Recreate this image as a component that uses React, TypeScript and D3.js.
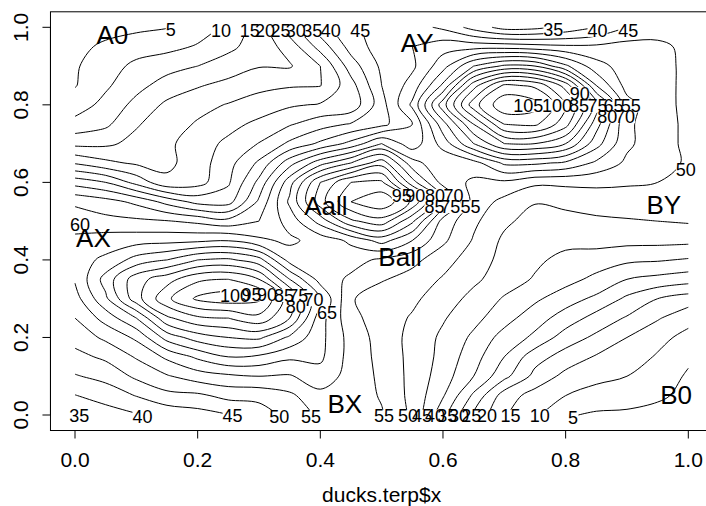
import React from "react";
import * as d3 from "d3";

// interpolated surface, rows from y = 1 (top) to y = 0 (bottom)
const gridX = [0, 0.05, 0.1, 0.15, 0.2, 0.25, 0.3, 0.35, 0.4, 0.45, 0.5, 0.55, 0.6, 0.65, 0.7, 0.75, 0.8, 0.85, 0.9, 0.95, 1];
const gridY = [1, 0.95, 0.9, 0.85, 0.8, 0.75, 0.7, 0.65, 0.6, 0.55, 0.5, 0.45, 0.4, 0.35, 0.3, 0.25, 0.2, 0.15, 0.1, 0.05, 0];
const zGrid = [
  [2, 3, 4, 4.8, 7.5, 11, 17.5, 28, 38, 44, 47, 47, 44, 38, 33, 33.5, 36.5, 40, 45, 48, 47],
  [3.5, 6, 7.5, 8.5, 10.5, 14, 17, 22, 32, 42, 47.5, 50, 53, 53, 53, 52, 51, 51, 52, 51, 49],
  [4.5, 7.6, 11.3, 13.2, 15, 17, 19.7, 19.5, 25, 37.5, 46, 49, 58, 70, 76, 75, 66, 57, 52.5, 51.5, 49],
  [4.7, 9.2, 13.4, 17.1, 19.5, 21.7, 23.8, 24.5, 24.8, 33, 45, 52, 66, 88, 101, 99, 88, 65, 53, 51.5, 49],
  [7.5, 11.5, 16.5, 21, 23.5, 25.3, 27, 29.3, 30.5, 31.5, 43, 56, 78, 98, 109, 107, 96, 78, 57, 51.5, 49],
  [11.7, 14, 19.5, 22.8, 25.5, 28.3, 31.3, 34.5, 37.9, 40.5, 43.5, 50, 68, 85, 100, 101, 92, 72, 56, 52, 49],
  [18.6, 19, 21.5, 24, 27.5, 31.2, 35.2, 41, 46, 51.6, 60, 52, 62, 75, 85, 85, 80, 67, 56, 52, 49],
  [29.5, 26.2, 24.2, 23.8, 27.6, 33.2, 40.9, 53, 63, 70, 78, 62, 56, 58, 66, 66, 64, 59, 54, 51.5, 49.5],
  [43, 40, 33.3, 26.2, 28, 34.3, 46.4, 63, 80, 90, 91, 72, 58, 54, 54, 51, 51, 51, 50.5, 50, 49],
  [54, 52, 48.8, 43.3, 38.3, 38, 51, 66, 83, 95, 99, 89, 69, 53, 48.5, 45.3, 46.5, 47.5, 48, 47.5, 47],
  [58, 56.5, 56, 55.3, 53.8, 51.7, 55, 62, 72, 84, 88, 76, 58, 51, 46, 43, 43, 44, 44.5, 45, 45.5],
  [61, 62.5, 63, 63.5, 64, 64.8, 61, 59, 62, 66, 72, 65, 56, 49.5, 44, 42, 41.5, 41.5, 41.5, 41.5, 41.3],
  [63, 66, 72, 75, 80, 81, 77, 63, 60, 62, 59, 56.5, 52, 47.5, 43.5, 41, 38.5, 38, 36, 35.5, 34.5],
  [60.5, 72, 83, 88, 94, 95, 90, 75, 63, 59, 55.5, 53, 49.5, 46, 42.5, 39.5, 37, 33.5, 30, 28.5, 27.2],
  [58, 69, 83, 94, 101, 103, 101, 87, 70, 55.5, 52, 51, 47.5, 43.5, 39.5, 36, 32, 29, 24, 20, 17.6],
  [55, 62, 70, 84, 89, 90, 93.5, 85, 67, 56.5, 52.5, 49.5, 45.5, 41.5, 37, 32, 28, 23, 19.5, 15.5, 11.7],
  [52, 56, 61, 72, 77.5, 80, 81, 74, 66.5, 58, 53, 48.5, 44, 39, 33, 29, 22.5, 19, 15, 11.5, 8.5],
  [48.4, 51, 55.5, 61, 66, 70, 69, 66, 66, 58, 53.5, 48.5, 43.5, 37, 30, 22, 18, 14.5, 12.5, 9.5, 6],
  [44.6, 46.5, 51, 54.5, 57.5, 59, 60, 59.5, 63, 58, 54, 48.5, 42.5, 35, 26.5, 18.5, 13.5, 11.5, 10, 8, 4.3],
  [39.8, 42.2, 45.2, 48.5, 49, 51.5, 51.5, 54, 58.5, 58, 54.5, 48.5, 40.5, 29, 17.5, 13, 10, 7.9, 7.4, 6, 3.5],
  [35, 37.5, 39.5, 41.5, 43, 44.8, 47.5, 51.5, 56, 57.5, 55.5, 49, 36.5, 24, 15.5, 11, 5.5, 4.3, 4, 3, 2],
];
const levels = [5, 10, 15, 20, 25, 30, 35, 40, 45, 50, 55, 60, 65, 70, 75, 80, 85, 90, 95, 100, 105];

// contour labels as they sit in the picture
const labelText = ["5", "10", "15", "20", "25", "30", "35", "40", "45",
  "35", "40", "45", "50",
  "105", "100", "90", "85", "75", "65", "55", "80", "70",
  "95", "90", "80", "70", "85", "75", "55",
  "100", "95", "90", "85", "75", "70", "80", "65",
  "60",
  "35", "40", "45", "50", "55", "55", "50", "45", "40", "35", "30", "25", "20", "15", "10", "5"];
const labelX = [0.156, 0.238, 0.285, 0.31, 0.335, 0.36, 0.387, 0.417, 0.465,
  0.78, 0.852, 0.902, 0.996,
  0.739, 0.786, 0.823, 0.822, 0.852, 0.878, 0.906, 0.868, 0.897,
  0.533, 0.555, 0.587, 0.617, 0.586, 0.612, 0.645,
  0.261, 0.288, 0.313, 0.341, 0.364, 0.389, 0.36, 0.411,
  0.008,
  0.007, 0.11, 0.257, 0.333, 0.385, 0.504, 0.543, 0.566, 0.587, 0.607, 0.626, 0.646, 0.672, 0.71, 0.758, 0.812];
const labelY = [0.995, 0.992, 0.992, 0.992, 0.992, 0.992, 0.992, 0.992, 0.992,
  0.993, 0.992, 0.992, 0.633,
  0.797, 0.797, 0.83, 0.797, 0.797, 0.797, 0.797, 0.769, 0.769,
  0.566, 0.566, 0.566, 0.566, 0.537, 0.537, 0.537,
  0.308, 0.31, 0.31, 0.308, 0.308, 0.297, 0.28, 0.265,
  0.49,
  -0.001, -0.004, -0.001, -0.004, -0.004, -0.003, -0.003, -0.003, -0.003, -0.003, -0.003, -0.003, -0.003, -0.003, -0.002, -0.008];

const pointNames = ["A0", "AY", "Aall", "Ball", "AX", "BX", "BY", "B0"];
const pointX = [0.061, 0.558, 0.409, 0.53, 0.03, 0.44, 0.96, 0.98];
const pointY = [0.98, 0.961, 0.54, 0.408, 0.457, 0.029, 0.542, 0.051];

const xTicks = [0, 0.2, 0.4, 0.6, 0.8, 1];
const yTicks = [0, 0.2, 0.4, 0.6, 0.8, 1];

type Pt = [number, number];

// marching squares on the grid, one straight piece per cell crossing
function isolines(level: number): [Pt, Pt][] {
  const segs: [Pt, Pt][] = [];
  const lerp = (p: Pt, q: Pt, a: number, b: number): Pt => {
    const t = (level - a) / (b - a);
    return [p[0] + t * (q[0] - p[0]), p[1] + t * (q[1] - p[1])];
  };
  for (let r = 0; r < gridY.length - 1; r++) {
    for (let c = 0; c < gridX.length - 1; c++) {
      const pa: Pt = [gridX[c], gridY[r]];
      const pb: Pt = [gridX[c + 1], gridY[r]];
      const pc: Pt = [gridX[c + 1], gridY[r + 1]];
      const pd: Pt = [gridX[c], gridY[r + 1]];
      const a = zGrid[r][c], b = zGrid[r][c + 1], cc = zGrid[r + 1][c + 1], d = zGrid[r + 1][c];
      const sa = a >= level, sb = b >= level, sc = cc >= level, sd = d >= level;
      const e: (Pt | null)[] = [
        sa !== sb ? lerp(pa, pb, a, b) : null,
        sb !== sc ? lerp(pb, pc, b, cc) : null,
        sd !== sc ? lerp(pd, pc, d, cc) : null,
        sa !== sd ? lerp(pa, pd, a, d) : null,
      ];
      const hits = e.filter((p) => p !== null) as Pt[];
      if (hits.length === 2) {
        segs.push([hits[0], hits[1]]);
      } else if (hits.length === 4) {
        const centre = (a + b + cc + d) / 4 >= level;
        if (centre === sa) {
          segs.push([e[0]!, e[1]!]);
          segs.push([e[2]!, e[3]!]);
        } else {
          segs.push([e[3]!, e[0]!]);
          segs.push([e[1]!, e[2]!]);
        }
      }
    }
  }
  return segs;
}

// stitch the pieces into lines so they can be drawn smoothly
function stitch(segs: [Pt, Pt][]): { pts: Pt[]; closed: boolean }[] {
  const key = (p: Pt) => `${p[0].toFixed(7)},${p[1].toFixed(7)}`;
  const ends = new Map<string, number[]>();
  segs.forEach((s, i) => {
    for (const p of s) {
      const k = key(p);
      if (!ends.has(k)) ends.set(k, []);
      ends.get(k)!.push(i);
    }
  });
  const used = new Array(segs.length).fill(false);
  const next = (p: Pt): Pt | null => {
    const list = ends.get(key(p)) || [];
    for (const i of list) {
      if (used[i]) continue;
      used[i] = true;
      const s = segs[i];
      return key(s[0]) === key(p) ? s[1] : s[0];
    }
    return null;
  };
  const lines: { pts: Pt[]; closed: boolean }[] = [];
  segs.forEach((s, i) => {
    if (used[i]) return;
    used[i] = true;
    const pts: Pt[] = [s[0], s[1]];
    let q = next(pts[pts.length - 1]);
    while (q) {
      pts.push(q);
      q = next(q);
    }
    q = next(pts[0]);
    while (q) {
      pts.unshift(q);
      q = next(q);
    }
    const closed = pts.length > 3 && key(pts[0]) === key(pts[pts.length - 1]);
    if (closed) pts.pop();
    lines.push({ pts, closed });
  });
  return lines;
}

export default function App() {
  const width = 706;
  const height = 506;
  const x = d3.scaleLinear().domain([0, 1]).range([75, 688.3]);
  const y = d3.scaleLinear().domain([0, 1]).range([415, 27.3]);
  const box = { left: x(-0.04), right: x(1.04), top: y(1.04), bottom: y(-0.04) };

  const openLine = d3.line<Pt>().x((p) => x(p[0])).y((p) => y(p[1])).curve(d3.curveCatmullRom.alpha(0.5));
  const loopLine = d3.line<Pt>().x((p) => x(p[0])).y((p) => y(p[1])).curve(d3.curveCatmullRomClosed.alpha(0.5));

  const paths: string[] = [];
  levels.forEach((L) => {
    stitch(isolines(L)).forEach((ln) => {
      const d = ln.closed ? loopLine(ln.pts) : openLine(ln.pts);
      if (d) paths.push(d);
    });
  });

  const font = "'Liberation Sans', Arial, Helvetica, sans-serif";
  const labelSize = 18;
  const digitW = labelSize * 0.556;

  return (
    <svg width={width} height={height} style={{ position: "absolute", left: 0, top: 0, background: "#fff" }}
      fontFamily={font}>
      <rect x={0} y={0} width={width} height={height} fill="#fff" />
      <g fill="none" stroke="#000" strokeWidth={1} strokeLinejoin="round">
        {paths.map((d, i) => <path key={i} d={d} />)}
      </g>
      {/* contour lines are broken where their labels sit */}
      <g fill="#fff">
        {labelText.map((t, i) => (
          <rect key={i} x={x(labelX[i]) - (t.length * digitW) / 2} y={y(labelY[i]) - 6.5}
            width={t.length * digitW} height={13} />
        ))}
      </g>
      <g fontSize={labelSize} textAnchor="middle" fill="#000">
        {labelText.map((t, i) => (
          <text key={i} x={x(labelX[i])} y={y(labelY[i])} dy="0.35em">{t}</text>
        ))}
      </g>
      <g fontSize={26} textAnchor="middle" fill="#000">
        {pointNames.map((t, i) => (
          <text key={i} x={x(pointX[i])} y={y(pointY[i])} dy="0.35em">{t}</text>
        ))}
      </g>
      <rect x={box.left} y={box.top} width={box.right - box.left} height={box.bottom - box.top}
        fill="none" stroke="#000" strokeWidth={1} />
      <g stroke="#000" strokeWidth={1}>
        <line x1={x(0)} x2={x(1)} y1={box.bottom} y2={box.bottom} />
        {xTicks.map((t) => <line key={t} x1={x(t)} x2={x(t)} y1={box.bottom} y2={box.bottom + 8} />)}
        <line x1={box.left} x2={box.left} y1={y(0)} y2={y(1)} />
        {yTicks.map((t) => <line key={t} x1={box.left} x2={box.left - 8} y1={y(t)} y2={y(t)} />)}
      </g>
      <g fontSize={21} textAnchor="middle" fill="#000">
        {xTicks.map((t) => (
          <text key={t} x={x(t)} y={460} dy="0.35em">{t.toFixed(1)}</text>
        ))}
        {yTicks.map((t) => (
          <text key={t} x={21} y={y(t)} dy="0.35em" transform={`rotate(-90, 21, ${y(t)})`}>{t.toFixed(1)}</text>
        ))}
        <text x={x(0.5)} y={495} dy="0.35em">ducks.terp$x</text>
      </g>
    </svg>
  );
}
